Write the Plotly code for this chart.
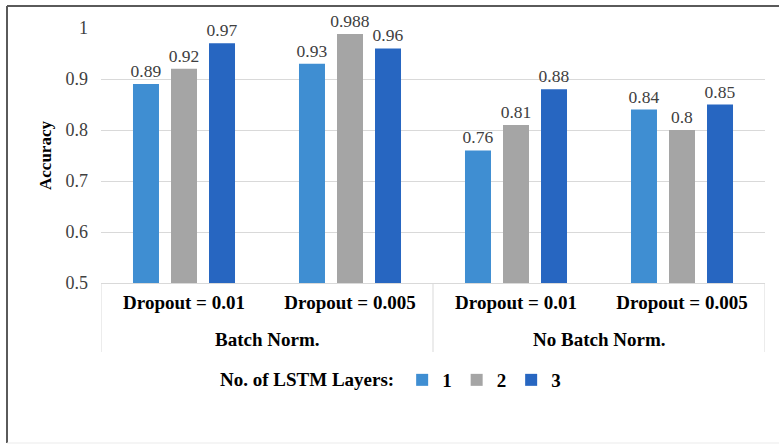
import plotly.graph_objects as go

# Grouping: normalization setting (outer) and dropout rate (inner)
norm_groups = ["Batch Norm.", "No Batch Norm."]
dropout_labels = ["Dropout = 0.01", "Dropout = 0.005", "Dropout = 0.01", "Dropout = 0.005"]

# Accuracy per number of LSTM layers
layer_names = ["1", "2", "3"]
acc_1_layer = [0.89, 0.93, 0.76, 0.84]
acc_2_layers = [0.92, 0.988, 0.81, 0.80]
acc_3_layers = [0.97, 0.96, 0.88, 0.85]

y_ticks = [0.5, 0.6, 0.7, 0.8, 0.9, 1.0]
y_tick_text = ["0.5", "0.6", "0.7", "0.8", "0.9", "1"]

colors = ["#3F8ED2", "#A5A5A5", "#2766C1"]
serif = "Liberation Serif, Times New Roman, serif"

W, H = 779, 445
x_pos = list(range(len(dropout_labels)))
per_group = len(dropout_labels) // len(norm_groups)

fig = go.Figure()
for name, vals, col in zip(layer_names, [acc_1_layer, acc_2_layers, acc_3_layers], colors):
    fig.add_trace(go.Bar(
        name=name,
        x=x_pos,
        y=vals,
        marker=dict(color=col, line=dict(width=0)),
        text=[f"{v:g}" for v in vals],
        textposition="outside",
        constraintext="none",
        textfont=dict(family=serif, size=17.5, color="#404040"),
        cliponaxis=False,
    ))

# Outer group labels and the dividers between groups
annotations = []
shapes = []
for gi, g in enumerate(norm_groups):
    centre = gi * per_group + (per_group - 1) / 2
    annotations.append(dict(
        x=centre, xref="x", y=1 - 339 / H, yref="paper",
        text=f"<b>{g}</b>", showarrow=False,
        font=dict(family=serif, size=19, color="#000000"),
        xanchor="center", yanchor="middle",
    ))
for b in range(len(norm_groups) + 1):
    xb = b * per_group - 0.5
    shapes.append(dict(type="line", xref="x", yref="paper", x0=xb, x1=xb,
                       y0=1 - 283 / H, y1=1 - 352 / H,
                       line=dict(color="#D9D9D9", width=1)))

# Outer frame of the chart area
shapes += [
    dict(type="line", xref="paper", yref="paper", x0=7 / W, x1=1.0, y0=1 - 6 / H, y1=1 - 6 / H,
         line=dict(color="#5A5A5A", width=2)),
    dict(type="line", xref="paper", yref="paper", x0=7 / W, x1=7 / W, y0=1 - 6 / H, y1=1 - 443 / H,
         line=dict(color="#5A5A5A", width=2)),
    dict(type="line", xref="paper", yref="paper", x0=7 / W, x1=1.0, y0=1 - 443 / H, y1=1 - 443 / H,
         line=dict(color="#EBEBEB", width=1)),
]

fig.update_layout(
    template="none",
    width=W, height=H,
    margin=dict(l=0, r=0, t=0, b=0),
    paper_bgcolor="white",
    plot_bgcolor="white",
    barmode="group",
    bargap=0.313,
    bargroupgap=0.316,
    font=dict(family=serif, color="#404040"),
    xaxis=dict(
        domain=[101 / W, 765 / W],
        range=[-0.5, len(dropout_labels) - 0.5],
        tickvals=x_pos, ticktext=[f"<b>{t}</b>" for t in dropout_labels],
        showline=True, linecolor="#D9D9D9", linewidth=1,
        showgrid=False, zeroline=False,
        ticks="",
        tickfont=dict(family=serif, size=19, color="#000000"),
        ticklabelstandoff=2,
        automargin=False,
    ),
    yaxis=dict(
        domain=[1 - 283 / H, 1 - 28 / H],
        range=[0.5, 1.0],
        tickvals=y_ticks, ticktext=y_tick_text,
        tickfont=dict(family=serif, size=18, color="#404040"),
        showgrid=True, gridcolor="#D9D9D9", gridwidth=1,
        zeroline=False, showline=False, ticks="",
        ticklabelstandoff=12,
        title=dict(text="<b>Accuracy</b>", font=dict(family=serif, size=17, color="#000000"), standoff=9),
        automargin=False,
    ),
    legend=dict(
        orientation="h",
        x=218 / W, xanchor="left",
        y=1 - 361 / H, yanchor="top",
        title=dict(text="<b>No. of LSTM Layers:</b>", font=dict(family=serif, size=19, color="#000000"), side="left"),
        font=dict(family=serif, size=19, color="#000000", weight="bold"),
        itemwidth=30,
        bgcolor="rgba(0,0,0,0)",
    ),
    annotations=annotations,
    shapes=shapes,
)

fig.write_html("out.html")
